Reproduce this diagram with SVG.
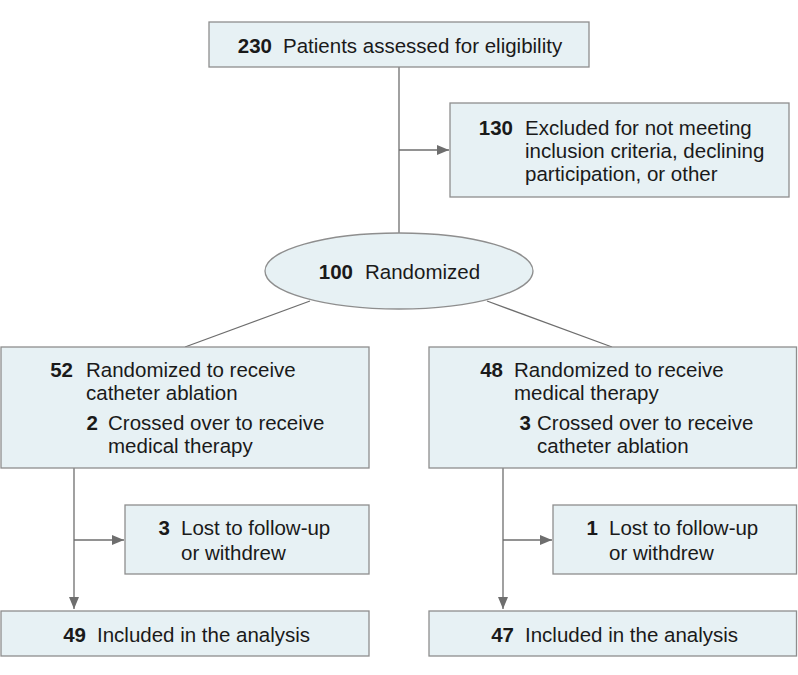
<svg xmlns="http://www.w3.org/2000/svg" width="798" height="675" viewBox="0 0 798 675">
<defs>
<style>
.box{fill:#e7f1f4;stroke:#8e8e8e;stroke-width:1.3}
.ln{fill:none;stroke:#6e6e6e;stroke-width:1.3}
text{font-family:"Liberation Sans",Arial,sans-serif;font-size:20.5px;fill:#1a1a1a}
.n{font-weight:bold;text-anchor:end}
</style>
<marker id="ah" viewBox="0 0 12 10" refX="12" refY="5" markerWidth="12" markerHeight="10" markerUnits="userSpaceOnUse" orient="auto">
<path d="M0,0 L12,5 L0,10 Z" fill="#6e6e6e"/>
</marker>
</defs>
<rect width="798" height="675" fill="#ffffff"/>
<g id="connectors">
<line class="ln" x1="399" y1="67" x2="399" y2="233"/>
<line class="ln" x1="399" y1="150" x2="449" y2="150" marker-end="url(#ah)"/>
<line class="ln" x1="310" y1="301" x2="185" y2="347"/>
<line class="ln" x1="487" y1="301" x2="612" y2="347"/>
<line class="ln" x1="74" y1="468" x2="74" y2="609" marker-end="url(#ah)"/>
<line class="ln" x1="74" y1="540" x2="124" y2="540" marker-end="url(#ah)"/>
<line class="ln" x1="503" y1="468" x2="503" y2="609" marker-end="url(#ah)"/>
<line class="ln" x1="503" y1="540" x2="552" y2="540" marker-end="url(#ah)"/>
</g>
<g id="assessed">
<rect class="box" x="209" y="22" width="380" height="45"/>
<text class="n" x="272" y="53">230</text>
<text x="283" y="53">Patients assessed for eligibility</text>
</g>
<g id="excluded">
<rect class="box" x="450" y="103" width="339" height="94"/>
<text class="n" x="513" y="135">130</text>
<text x="525" y="135">Excluded for not meeting</text>
<text x="525" y="158">inclusion criteria, declining</text>
<text x="525" y="181">participation, or other</text>
</g>
<g id="randomized">
<ellipse class="box" cx="399" cy="271" rx="134" ry="38"/>
<text class="n" x="353" y="279">100</text>
<text x="365" y="279">Randomized</text>
</g>
<g id="ablation">
<rect class="box" x="1" y="347" width="368" height="121"/>
<text class="n" x="73" y="377">52</text>
<text x="86" y="377">Randomized to receive</text>
<text x="86" y="400">catheter ablation</text>
<text class="n" x="98" y="430">2</text>
<text x="108" y="430">Crossed over to receive</text>
<text x="108" y="453">medical therapy</text>
</g>
<g id="medical">
<rect class="box" x="429" y="347" width="367.5" height="121"/>
<text class="n" x="503" y="377">48</text>
<text x="514" y="377">Randomized to receive</text>
<text x="514" y="400">medical therapy</text>
<text class="n" x="531" y="430">3</text>
<text x="537" y="430">Crossed over to receive</text>
<text x="537" y="453">catheter ablation</text>
</g>
<g id="lost-left">
<rect class="box" x="125" y="505" width="244" height="69"/>
<text class="n" x="170" y="535">3</text>
<text x="181" y="535">Lost to follow-up</text>
<text x="181" y="560">or withdrew</text>
</g>
<g id="lost-right">
<rect class="box" x="553" y="505" width="243.5" height="69"/>
<text class="n" x="598" y="535">1</text>
<text x="609" y="535">Lost to follow-up</text>
<text x="609" y="560">or withdrew</text>
</g>
<g id="included-left">
<rect class="box" x="1" y="611" width="368" height="45"/>
<text class="n" x="86" y="642">49</text>
<text x="97" y="642">Included in the analysis</text>
</g>
<g id="included-right">
<rect class="box" x="429" y="611" width="367.5" height="45"/>
<text class="n" x="514" y="642">47</text>
<text x="525" y="642">Included in the analysis</text>
</g>
</svg>
